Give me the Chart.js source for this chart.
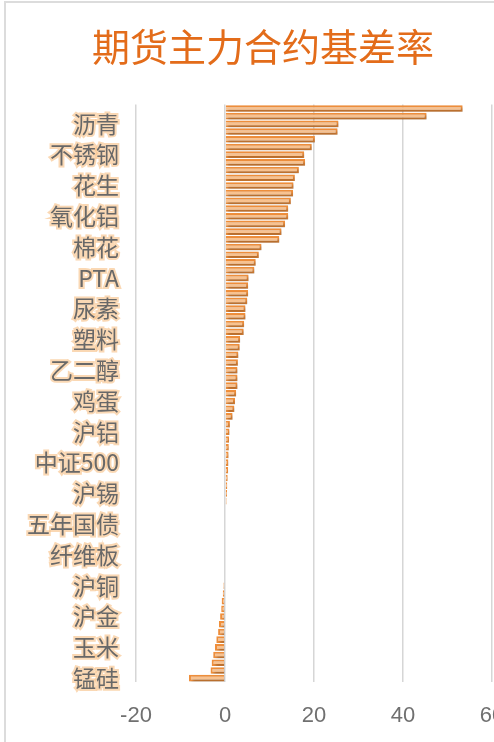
<!DOCTYPE html>
<html>
<head>
<meta charset="utf-8">
<script src="https://cdn.jsdelivr.net/npm/chart.js@4/dist/chart.umd.min.js"></script>
<style>
  html, body { margin: 0; padding: 0; background: #fff; overflow: hidden; width: 494px; height: 742px; }
  #frame { position: absolute; left: 4px; top: 1px; width: 700px; height: 800px;
           border-left: 2px solid #dcdcdc; border-top: 2px solid #dcdcdc; pointer-events: none; }
  #c { position: absolute; left: 0; top: 0; }
</style>
</head>
<body>
<canvas id="c" width="526" height="742"></canvas>
<div id="frame"></div>
<script>
const chartTitle = '期货主力合约基差率';

const categories = [
  '碳酸锂','工业硅','沥青','燃料油','低硫燃料油','原油','不锈钢','液化气','纯碱','玻璃',
  '花生','苹果','红枣','生猪','氧化铝','短纤','对二甲苯','烧碱','棉花','棉纱',
  '白糖','菜粕','PTA','甲醇','聚丙烯','PVC','尿素','苯乙烯','橡胶','20号胶',
  '塑料','纸浆','豆粕','豆油','乙二醇','棕榈油','菜油','豆一','鸡蛋','豆二',
  '玉米淀粉','粳米','沪铝','沪锌','沪铅','沪镍','中证500','中证1000','沪深300','上证50',
  '沪锡','国际铜','二年国债','十年国债','五年国债','三十年国债','线材','胶合板','纤维板','强麦',
  '普麦','早籼稻','沪铜','沪银','螺纹钢','热卷','沪金','铁矿石','焦炭','焦煤',
  '玉米','动力煤','硅铁','丁二烯橡胶','锰硅'
];

const basisRate = [
  53.4, 45.3, 25.5, 25.3, 20.2, 19.5, 17.8, 18.0, 16.6, 15.7,
  15.4, 15.3, 14.8, 14.2, 14.2, 13.5, 12.7, 12.2, 8.2, 7.6,
  6.9, 6.6, 5.3, 5.2, 5.2, 5.0, 4.6, 4.6, 4.3, 4.2,
  3.4, 3.3, 3.0, 2.9, 2.8, 2.8, 2.8, 2.5, 2.25, 2.1,
  1.7, 1.1, 1.0, 0.9, 0.85, 0.8, 0.75, 0.7, 0.6, 0.5,
  0.45, 0.35, 0, 0, 0, 0, 0, 0, 0, 0,
  0, 0, -0.35, -0.5, -0.75, -0.85, -1.1, -1.35, -1.55, -1.95,
  -2.25, -2.65, -3.0, -3.25, -8.1
];

const xTicks = [-20, 0, 20, 40, 60];

const barShadow = {
  id: 'barShadow',
  beforeDatasetsDraw(chart) {
    const ctx = chart.ctx;
    ctx.save();
    ctx.shadowColor = 'rgba(0,0,0,0.35)';
    ctx.shadowBlur = 3;
    ctx.shadowOffsetX = 2;
    ctx.shadowOffsetY = 2;
  },
  afterDatasetsDraw(chart) {
    chart.ctx.restore();
  }
};

// centre the title over the whole canvas rather than the padded box
const titleSpan = {
  id: 'titleSpan',
  afterLayout(chart) {
    const t = chart.titleBlock;
    if (t) { t.left = 0; t.right = chart.width; t.width = chart.width; }
  }
};

new Chart(document.getElementById('c'), {
  type: 'bar',
  data: {
    labels: categories,
    datasets: [{
      data: basisRate,
      backgroundColor: '#F8C290',
      borderColor: '#EF8F3C',
      borderWidth: 2,
      barPercentage: 0.86,
      categoryPercentage: 1.0
    }]
  },
  options: {
    indexAxis: 'y',
    responsive: false,
    animation: false,
    events: [],
    layout: { padding: { top: 20, left: 6, right: 34, bottom: 10 } },
    plugins: {
      legend: { display: false },
      tooltip: { enabled: false },
      title: {
        display: true,
        text: chartTitle,
        color: '#E36C1A',
        font: { family: '"Noto Sans CJK SC", sans-serif', size: 38, weight: 'normal' },
        padding: { top: 4, bottom: 35 }
      }
    },
    scales: {
      x: {
        min: xTicks[0],
        max: xTicks[xTicks.length - 1],
        afterBuildTicks(scale) { scale.ticks = xTicks.map(v => ({ value: v })); },
        afterFit(scale) { scale.height = 50; },
        grid: { color: '#d6d6d6', lineWidth: 1.5, drawTicks: false },
        border: { display: false },
        ticks: {
          color: '#707070',
          padding: 21,
          font: { family: '"Liberation Sans", Arial, sans-serif', size: 22 }
        }
      },
      y: {
        afterFit(scale) { scale.width = 130; },
        grid: { display: false, drawTicks: false },
        border: { display: false },
        ticks: {
          autoSkip: false,
          padding: 17,
          color: '#686868',
          textStrokeColor: 'rgba(247,190,130,0.6)',
          textStrokeWidth: 4,
          font: { family: '"Noto Sans CJK SC", sans-serif', size: 23 },
          callback(value, index) { return index % 4 === 2 ? categories[index] : ''; }
        }
      }
    }
  },
  plugins: [barShadow, titleSpan]
});
</script>
</body>
</html>
